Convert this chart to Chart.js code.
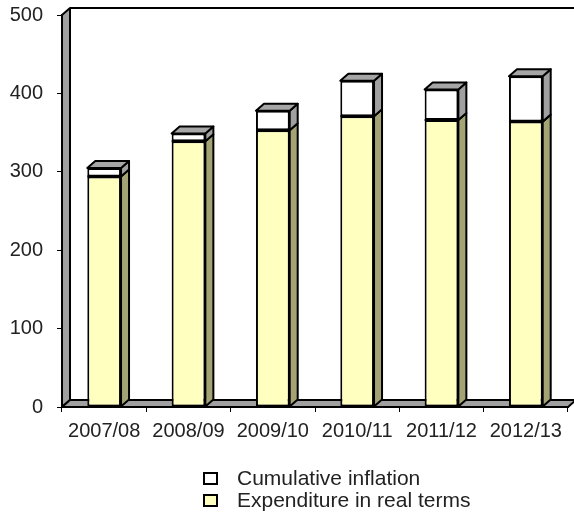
<!DOCTYPE html>
<html>
<head>
<meta charset="utf-8">
<script src="https://cdn.jsdelivr.net/npm/chart.js@4.4.1/dist/chart.umd.min.js"></script>
<style>
    body { margin: 0; background: #fff; }
    #wrap { position: relative; width: 574px; height: 522px; }
    #legend { position: absolute; left: 203px; top: 467px; font-family: 'Liberation Sans', Arial, sans-serif; font-size: 21px; color: #222; }
    .item { display: flex; align-items: center; height: 22px; }
    .box { width: 11px; height: 9px; border: 2px solid #000; margin-right: 19px; }
</style>
</head>
<body>
<div id="wrap">
    <canvas id="barChart" width="574" height="522"></canvas>
    <div id="legend"></div>
</div>
<script>
const categories = ["2007/08", "2008/09", "2009/10", "2010/11", "2011/12", "2012/13"];
const realTerms = [294, 339, 353, 371, 366, 364];
const inflation = [11, 10, 25, 45, 39, 58];
const seriesNames = ["Expenditure in real terms", "Cumulative inflation"];
const yMax = 500;
const yStep = 100;

// depth of the fake 3d extrusion, in pixels
const DX = 8;
const DY = -7;

function poly(ctx, pts, fill) {
    ctx.beginPath();
    ctx.moveTo(pts[0][0], pts[0][1]);
    for (let i = 1; i < pts.length; i++) ctx.lineTo(pts[i][0], pts[i][1]);
    ctx.closePath();
    ctx.fillStyle = fill;
    ctx.fill();
    ctx.stroke();
}

const depth3d = {
    id: 'depth3d',
    beforeDatasetsDraw(chart) {
        const ctx = chart.ctx;
        const a = chart.chartArea;
        ctx.save();
        ctx.lineWidth = 2;
        ctx.strokeStyle = '#000';
        ctx.lineJoin = 'round';
        // back wall top edge
        ctx.beginPath();
        ctx.moveTo(a.left + DX, a.top + DY);
        ctx.lineTo(chart.width + 10, a.top + DY);
        ctx.stroke();
        // left wall
        poly(ctx, [[a.left, a.bottom], [a.left, a.top], [a.left + DX, a.top + DY], [a.left + DX, a.bottom + DY]], '#a0a0a0');
        // floor
        poly(ctx, [[a.left, a.bottom], [a.right, a.bottom], [a.right + DX, a.bottom + DY], [a.left + DX, a.bottom + DY]], '#a0a0a0');
        ctx.restore();
    },
    afterDatasetsDraw(chart) {
        const ctx = chart.ctx;
        const sets = chart.data.datasets;
        ctx.save();
        ctx.lineWidth = 2;
        ctx.strokeStyle = '#000';
        ctx.lineJoin = 'round';
        sets.forEach((ds, i) => {
            const meta = chart.getDatasetMeta(i);
            meta.data.forEach(bar => {
                const l = bar.x - bar.width / 2;
                const r = bar.x + bar.width / 2;
                poly(ctx, [[r, bar.base], [r + DX, bar.base + DY], [r + DX, bar.y + DY], [r, bar.y]], ds.sideColor);
                // seam between stacked segments
                ctx.beginPath();
                ctx.moveTo(l, bar.y);
                ctx.lineTo(r, bar.y);
                ctx.stroke();
            });
        });
        // lid on top of the highest segment
        const top = chart.getDatasetMeta(sets.length - 1);
        top.data.forEach(bar => {
            const l = bar.x - bar.width / 2;
            const r = bar.x + bar.width / 2;
            poly(ctx, [[l, bar.y], [l + DX, bar.y + DY], [r + DX, bar.y + DY], [r, bar.y]], '#a6a6a6');
        });
        ctx.restore();
    }
};

const chart = new Chart("barChart", {
    type: "bar",
    data: {
        labels: categories,
        datasets: [{
            label: seriesNames[0],
            data: realTerms,
            backgroundColor: '#ffffc0',
            sideColor: '#a3a374'
        }, {
            label: seriesNames[1],
            data: inflation,
            backgroundColor: '#ffffff',
            sideColor: '#a0a0a0'
        }]
    },
    options: {
        responsive: false,
        animation: false,
        devicePixelRatio: 1,
        layout: { padding: { top: 15, right: 6, left: 0, bottom: 0 } },
        datasets: {
            bar: {
                borderColor: '#000',
                borderWidth: 2,
                borderSkipped: false,
                categoryPercentage: 1,
                barPercentage: 0.4
            }
        },
        plugins: {
            legend: { display: false },
            tooltip: { enabled: false }
        },
        scales: {
            x: {
                stacked: true,
                afterFit: s => { s.height = 115; s.paddingLeft = 0; s.paddingRight = 0; },
                border: { color: '#000', width: 2 },
                grid: { drawOnChartArea: false, color: '#000', lineWidth: 1, tickLength: 5 },
                ticks: { color: '#222', padding: 7, font: { family: "'Liberation Sans', Arial", size: 20 } }
            },
            y: {
                stacked: true,
                min: 0,
                max: yMax,
                afterFit: s => { s.width = 62; s.paddingTop = 0; s.paddingBottom = 0; },
                border: { color: '#000', width: 2 },
                grid: { drawOnChartArea: false, color: '#000', lineWidth: 1, tickLength: 5 },
                ticks: { stepSize: yStep, color: '#222', padding: 14, font: { family: "'Liberation Sans', Arial", size: 20 } }
            }
        }
    },
    plugins: [depth3d]
});

// legend, top series first
const legend = document.querySelector('#legend');
chart.data.datasets.slice().reverse().forEach(ds => {
    const item = document.createElement('div');
    item.className = 'item';
    const box = document.createElement('span');
    box.className = 'box';
    box.style.background = ds.backgroundColor;
    const txt = document.createElement('span');
    txt.textContent = ds.label;
    item.appendChild(box);
    item.appendChild(txt);
    legend.appendChild(item);
});
</script>
</body>
</html>
